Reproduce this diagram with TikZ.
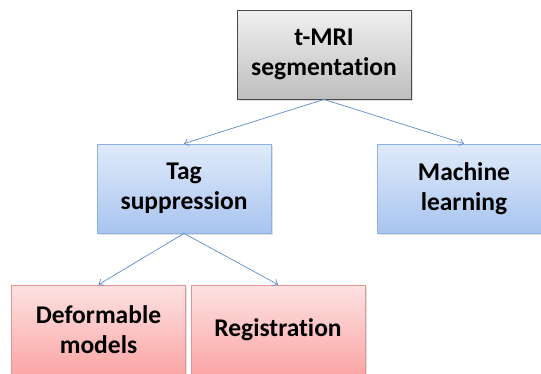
\documentclass[tikz,border=0pt]{standalone}
\usepackage{fontspec}
\setmainfont{Carlito}[RawFeature=-liga]
\usetikzlibrary{arrows.meta,shadows}
\definecolor{grayTop}{HTML}{F0F0F0}
\definecolor{grayBot}{HTML}{BEBEBE}
\definecolor{grayLine}{HTML}{4A4A4A}
\definecolor{blueTop}{HTML}{E0EBFA}
\definecolor{blueBot}{HTML}{A8C4EF}
\definecolor{blueLine}{HTML}{8CB2E2}
\definecolor{redTop}{HTML}{FDE2E2}
\definecolor{redBot}{HTML}{FBA6A6}
\definecolor{redLine}{HTML}{E39595}
\definecolor{arrowCol}{HTML}{5B8CCB}
\tikzset{
  box/.style={minimum width=174pt, minimum height=89pt, inner sep=0pt,
    align=center, font=\fontsize{25.5}{30}\selectfont\bfseries, line width=0.8pt,
    drop shadow={shadow xshift=1.5pt, shadow yshift=-1.5pt, opacity=0.25}},
  graybox/.style={box, draw=grayLine, top color=grayTop, bottom color=grayBot},
  bluebox/.style={box, draw=blueLine, top color=blueTop, bottom color=blueBot},
  redbox/.style={box, draw=redLine, top color=redTop, bottom color=redBot},
  conn/.style={draw=arrowCol, line width=0.7pt, -{Straight Barb[length=4pt,width=7pt]}}
}
\begin{document}
\begin{tikzpicture}[x=1pt,y=-1pt]
\useasboundingbox (0,0) rectangle (541,373);
\begin{scope}
\clip (0,0) rectangle (541,373);
\node[graybox] (top) at (324,54.5) {t-MRI\\segmentation};
\node[bluebox] (tag) at (184,188.5) {Tag\\suppression};
\node[bluebox] (ml) at (464,188.5) {Machine\\learning};
\node[redbox] (def) at (98.5,329.5) {Deformable\\models};
\node[redbox] (reg) at (278,329.5) {Registration};
\end{scope}
\draw[conn] (top.south) -- (tag.north);
\draw[conn] (top.south) -- (ml.north);
\draw[conn] (tag.south) -- (def.north);
\draw[conn] (tag.south) -- (reg.north);
\end{tikzpicture}
\end{document}
